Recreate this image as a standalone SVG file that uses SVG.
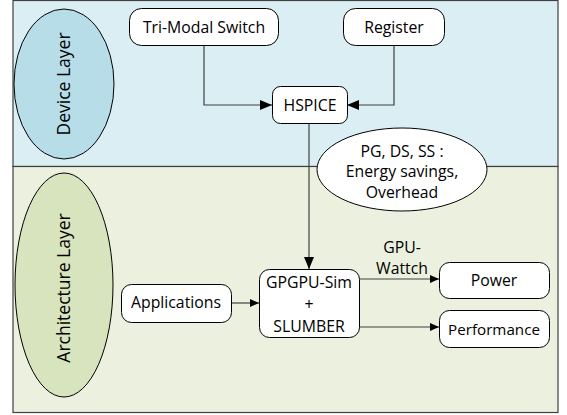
<svg xmlns="http://www.w3.org/2000/svg" width="567" height="415" viewBox="0 0 567 415">
  <style>
    .box { fill: #ffffff; stroke: #000000; stroke-width: 1; }
    .lbl { font-family: "Open Sans", "Noto Sans", sans-serif; font-size: 15.8px; fill: #000000; text-anchor: middle; }
    .layer { font-family: "Open Sans", "Noto Sans", sans-serif; font-size: 17.5px; fill: #000000; text-anchor: middle; }
    .wire { fill: none; stroke: #404040; stroke-width: 1.2; }
  </style>
  <defs>
    <marker id="big" viewBox="0 0 12 10" refX="12" refY="5" markerWidth="12" markerHeight="10" markerUnits="userSpaceOnUse" orient="auto">
      <path d="M0,0 L12,5 L0,10 Z" fill="#000000"/>
    </marker>
    <marker id="small" viewBox="0 0 9 8" refX="9" refY="4" markerWidth="9" markerHeight="8" markerUnits="userSpaceOnUse" orient="auto">
      <path d="M0,0 L9,4 L0,8 Z" fill="#000000"/>
    </marker>
  </defs>

  <!-- layer bands -->
  <g id="bands">
    <rect x="13" y="0.5" width="545" height="166" fill="#dbeef4" stroke="#404040" stroke-width="1.2"/>
    <rect x="13" y="166.5" width="545" height="246" fill="#ebf1de" stroke="#404040" stroke-width="1.2"/>
  </g>

  <g id="device-layer">
    <ellipse cx="64" cy="84" rx="50" ry="75" fill="#b7dee8" stroke="#000000" stroke-width="1"/>
    <text class="layer" transform="translate(70,84) rotate(-90)">Device Layer</text>
  </g>
  <g id="architecture-layer">
    <ellipse cx="64" cy="285" rx="49" ry="112" fill="#d7e4bd" stroke="#000000" stroke-width="1"/>
    <text class="layer" transform="translate(70,288) rotate(-90)">Architecture Layer</text>
  </g>

  <!-- connectors -->
  <g id="connectors">
    <path class="wire" d="M204,46 V105 H272" marker-end="url(#big)"/>
    <path class="wire" d="M394,46 V105 H347" marker-end="url(#big)"/>
    <path class="wire" d="M309,123 V269" stroke="#000000" marker-end="url(#big)"/>
    <path class="wire" d="M231,303 H259" marker-end="url(#small)"/>
    <path class="wire" d="M359,279 H439" marker-end="url(#small)"/>
    <path class="wire" d="M359,327 H439" marker-end="url(#small)"/>
  </g>

  <g id="tri-modal-switch">
    <rect class="box" x="129.5" y="8.5" width="149" height="37" rx="12"/>
    <text class="lbl" x="204" y="33">Tri-Modal Switch</text>
  </g>
  <g id="register">
    <rect class="box" x="343.5" y="8.5" width="101" height="37" rx="12"/>
    <text class="lbl" x="394" y="33">Register</text>
  </g>
  <g id="hspice">
    <rect class="box" x="272.5" y="86.5" width="75" height="37" rx="8"/>
    <text class="lbl" x="310" y="111">HSPICE</text>
  </g>
  <g id="results">
    <ellipse class="box" cx="402" cy="169.5" rx="85" ry="41.5"/>
    <text class="lbl" x="402" y="157">PG, DS, SS :</text>
    <text class="lbl" x="402" y="177">Energy savings,</text>
    <text class="lbl" x="402" y="198">Overhead</text>
  </g>
  <g id="applications">
    <rect class="box" x="121.5" y="284.5" width="110" height="38" rx="10"/>
    <text class="lbl" x="176" y="308">Applications</text>
  </g>
  <g id="gpgpu-sim">
    <rect class="box" x="259.5" y="269.5" width="100" height="68" rx="10"/>
    <text class="lbl" x="309" y="288">GPGPU-Sim</text>
    <text class="lbl" x="309" y="310">+</text>
    <text class="lbl" x="309" y="332">SLUMBER</text>
  </g>
  <g id="gpu-wattch-label">
    <text class="lbl" x="402" y="253">GPU-</text>
    <text class="lbl" x="402" y="274">Wattch</text>
  </g>
  <g id="power">
    <rect class="box" x="439.5" y="262.5" width="110" height="36" rx="10"/>
    <text class="lbl" x="494" y="286">Power</text>
  </g>
  <g id="performance">
    <rect class="box" x="439.5" y="310.5" width="110" height="37" rx="10"/>
    <text class="lbl" x="494" y="335" style="font-size:15.2px">Performance</text>
  </g>
</svg>
